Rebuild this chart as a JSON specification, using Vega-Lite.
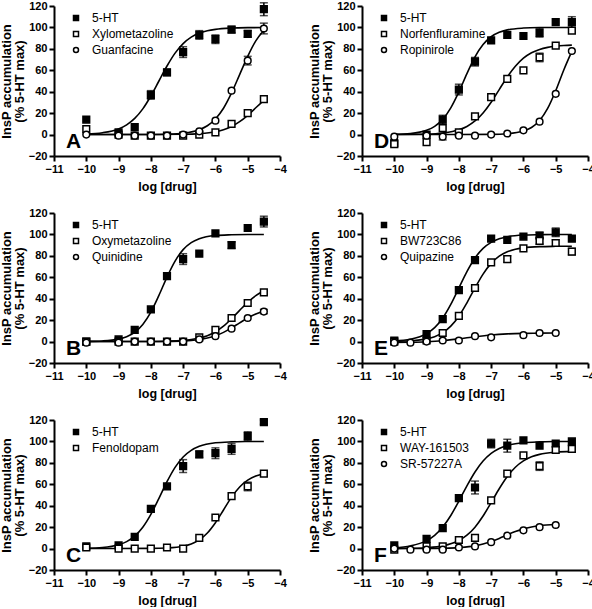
{
"$schema":"https://vega.github.io/schema/vega-lite/v6.json",
"padding":{"left":0,"top":0,"right":0,"bottom":0},
"columns":2,
"spacing":{"row":14,"column":21},
"resolve":{"scale":{"shape":"independent","fill":"independent","stroke":"independent"},"legend":{"shape":"independent","fill":"independent","stroke":"independent"}},
"config":{
 "font":"Liberation Sans",
 "view":{"stroke":null},
 "axis":{"domainColor":"black","domainWidth":2,"tickColor":"black","tickWidth":2,"tickSize":5,"labelFont":"Liberation Sans","labelFontWeight":"bold","labelFontSize":11,"labelColor":"black","titleFont":"Liberation Sans","titleFontWeight":"bold","titleFontSize":13,"titleColor":"black","grid":false,"labelPadding":2,"labelFlush":false,"labelOverlap":false,"titleLineHeight":13},
 "axisX":{"titlePadding":6,"titleFontSize":12.5},
 "axisY":{"titlePadding":2},
 "legend":{"orient":"none","legendX":16,"legendY":6,"title":null,"padding":0,"rowPadding":4,"labelFont":"Liberation Sans","labelFontSize":12,"labelColor":"black","labelOffset":10,"symbolSize":25,"symbolStrokeColor":"black","symbolStrokeWidth":1.5}
},
"datasets":{
"pts":[
{"p":"A","d":"5-HT","x":-10,"y":14,"e":0},{"p":"A","d":"5-HT","x":-9,"y":2,"e":0},{"p":"A","d":"5-HT","x":-8.5,"y":7,"e":0},{"p":"A","d":"5-HT","x":-8,"y":37,"e":4},{"p":"A","d":"5-HT","x":-7.5,"y":58,"e":3},{"p":"A","d":"5-HT","x":-7,"y":77,"e":5},{"p":"A","d":"5-HT","x":-6.5,"y":93,"e":4},{"p":"A","d":"5-HT","x":-6,"y":89,"e":4},{"p":"A","d":"5-HT","x":-5.5,"y":98,"e":3},{"p":"A","d":"5-HT","x":-5,"y":94,"e":3},{"p":"A","d":"5-HT","x":-4.5,"y":117,"e":6},
{"p":"A","d":"Xylometazoline","x":-10,"y":5,"e":0},{"p":"A","d":"Xylometazoline","x":-9,"y":0,"e":0},{"p":"A","d":"Xylometazoline","x":-8.5,"y":-1,"e":0},{"p":"A","d":"Xylometazoline","x":-8,"y":-1,"e":0},{"p":"A","d":"Xylometazoline","x":-7.5,"y":-1,"e":0},{"p":"A","d":"Xylometazoline","x":-7,"y":-1,"e":0},{"p":"A","d":"Xylometazoline","x":-6.5,"y":0,"e":0},{"p":"A","d":"Xylometazoline","x":-6,"y":2,"e":0},{"p":"A","d":"Xylometazoline","x":-5.5,"y":10,"e":0},{"p":"A","d":"Xylometazoline","x":-5,"y":20,"e":0},{"p":"A","d":"Xylometazoline","x":-4.5,"y":33,"e":0},
{"p":"A","d":"Guanfacine","x":-10,"y":0,"e":0},{"p":"A","d":"Guanfacine","x":-9,"y":-1,"e":0},{"p":"A","d":"Guanfacine","x":-8.5,"y":-1,"e":0},{"p":"A","d":"Guanfacine","x":-8,"y":-1,"e":0},{"p":"A","d":"Guanfacine","x":-7.5,"y":-1,"e":0},{"p":"A","d":"Guanfacine","x":-7,"y":0,"e":0},{"p":"A","d":"Guanfacine","x":-6.5,"y":3,"e":0},{"p":"A","d":"Guanfacine","x":-6,"y":13,"e":0},{"p":"A","d":"Guanfacine","x":-5.5,"y":41,"e":0},{"p":"A","d":"Guanfacine","x":-5,"y":69,"e":4},{"p":"A","d":"Guanfacine","x":-4.5,"y":99,"e":5},
{"p":"D","d":"5-HT","x":-10,"y":-8,"e":0},{"p":"D","d":"5-HT","x":-9,"y":0,"e":0},{"p":"D","d":"5-HT","x":-8.5,"y":14,"e":4},{"p":"D","d":"5-HT","x":-8,"y":42,"e":5},{"p":"D","d":"5-HT","x":-7.5,"y":68,"e":4},{"p":"D","d":"5-HT","x":-7,"y":88,"e":0},{"p":"D","d":"5-HT","x":-6.5,"y":93,"e":0},{"p":"D","d":"5-HT","x":-6,"y":92,"e":0},{"p":"D","d":"5-HT","x":-5.5,"y":95,"e":4},{"p":"D","d":"5-HT","x":-5,"y":105,"e":0},{"p":"D","d":"5-HT","x":-4.5,"y":105,"e":5},
{"p":"D","d":"Norfenfluramine","x":-10,"y":-9,"e":0},{"p":"D","d":"Norfenfluramine","x":-9,"y":-7,"e":0},{"p":"D","d":"Norfenfluramine","x":-8.5,"y":6,"e":0},{"p":"D","d":"Norfenfluramine","x":-8,"y":2,"e":0},{"p":"D","d":"Norfenfluramine","x":-7.5,"y":17,"e":0},{"p":"D","d":"Norfenfluramine","x":-7,"y":35,"e":0},{"p":"D","d":"Norfenfluramine","x":-6.5,"y":52,"e":0},{"p":"D","d":"Norfenfluramine","x":-6,"y":60,"e":0},{"p":"D","d":"Norfenfluramine","x":-5.5,"y":72,"e":4},{"p":"D","d":"Norfenfluramine","x":-5,"y":83,"e":0},{"p":"D","d":"Norfenfluramine","x":-4.5,"y":97,"e":0},
{"p":"D","d":"Ropinirole","x":-10,"y":-2,"e":0},{"p":"D","d":"Ropinirole","x":-9,"y":-1,"e":0},{"p":"D","d":"Ropinirole","x":-8.5,"y":-2,"e":3},{"p":"D","d":"Ropinirole","x":-8,"y":-1,"e":0},{"p":"D","d":"Ropinirole","x":-7.5,"y":-1,"e":0},{"p":"D","d":"Ropinirole","x":-7,"y":0,"e":0},{"p":"D","d":"Ropinirole","x":-6.5,"y":1,"e":0},{"p":"D","d":"Ropinirole","x":-6,"y":4,"e":0},{"p":"D","d":"Ropinirole","x":-5.5,"y":12,"e":0},{"p":"D","d":"Ropinirole","x":-5,"y":38,"e":0},{"p":"D","d":"Ropinirole","x":-4.5,"y":78,"e":0},
{"p":"B","d":"5-HT","x":-10,"y":0,"e":0},{"p":"B","d":"5-HT","x":-9,"y":2,"e":0},{"p":"B","d":"5-HT","x":-8.5,"y":11,"e":0},{"p":"B","d":"5-HT","x":-8,"y":30,"e":0},{"p":"B","d":"5-HT","x":-7.5,"y":61,"e":0},{"p":"B","d":"5-HT","x":-7,"y":77,"e":5},{"p":"B","d":"5-HT","x":-6.5,"y":82,"e":0},{"p":"B","d":"5-HT","x":-6,"y":101,"e":0},{"p":"B","d":"5-HT","x":-5.5,"y":90,"e":3},{"p":"B","d":"5-HT","x":-5,"y":106,"e":0},{"p":"B","d":"5-HT","x":-4.5,"y":112,"e":5},
{"p":"B","d":"Oxymetazoline","x":-10,"y":0,"e":0},{"p":"B","d":"Oxymetazoline","x":-9,"y":0,"e":0},{"p":"B","d":"Oxymetazoline","x":-8.5,"y":0,"e":0},{"p":"B","d":"Oxymetazoline","x":-8,"y":0,"e":0},{"p":"B","d":"Oxymetazoline","x":-7.5,"y":0,"e":0},{"p":"B","d":"Oxymetazoline","x":-7,"y":0,"e":0},{"p":"B","d":"Oxymetazoline","x":-6.5,"y":4,"e":0},{"p":"B","d":"Oxymetazoline","x":-6,"y":11,"e":0},{"p":"B","d":"Oxymetazoline","x":-5.5,"y":22,"e":0},{"p":"B","d":"Oxymetazoline","x":-5,"y":36,"e":0},{"p":"B","d":"Oxymetazoline","x":-4.5,"y":46,"e":0},
{"p":"B","d":"Quinidine","x":-10,"y":-1,"e":0},{"p":"B","d":"Quinidine","x":-9,"y":-1,"e":0},{"p":"B","d":"Quinidine","x":-8.5,"y":0,"e":0},{"p":"B","d":"Quinidine","x":-8,"y":0,"e":0},{"p":"B","d":"Quinidine","x":-7.5,"y":0,"e":0},{"p":"B","d":"Quinidine","x":-7,"y":0,"e":0},{"p":"B","d":"Quinidine","x":-6.5,"y":2,"e":0},{"p":"B","d":"Quinidine","x":-6,"y":5,"e":0},{"p":"B","d":"Quinidine","x":-5.5,"y":12,"e":0},{"p":"B","d":"Quinidine","x":-5,"y":22,"e":0},{"p":"B","d":"Quinidine","x":-4.5,"y":28,"e":2},
{"p":"E","d":"5-HT","x":-10,"y":1,"e":0},{"p":"E","d":"5-HT","x":-9,"y":7,"e":0},{"p":"E","d":"5-HT","x":-8.5,"y":21,"e":0},{"p":"E","d":"5-HT","x":-8,"y":48,"e":0},{"p":"E","d":"5-HT","x":-7.5,"y":76,"e":0},{"p":"E","d":"5-HT","x":-7,"y":96,"e":0},{"p":"E","d":"5-HT","x":-6.5,"y":95,"e":0},{"p":"E","d":"5-HT","x":-6,"y":98,"e":0},{"p":"E","d":"5-HT","x":-5.5,"y":99,"e":3},{"p":"E","d":"5-HT","x":-5,"y":102,"e":4},{"p":"E","d":"5-HT","x":-4.5,"y":96,"e":0},
{"p":"E","d":"BW723C86","x":-10,"y":0,"e":0},{"p":"E","d":"BW723C86","x":-9,"y":1,"e":0},{"p":"E","d":"BW723C86","x":-8.5,"y":8,"e":0},{"p":"E","d":"BW723C86","x":-8,"y":24,"e":0},{"p":"E","d":"BW723C86","x":-7.5,"y":50,"e":0},{"p":"E","d":"BW723C86","x":-7,"y":74,"e":0},{"p":"E","d":"BW723C86","x":-6.5,"y":77,"e":3},{"p":"E","d":"BW723C86","x":-6,"y":87,"e":0},{"p":"E","d":"BW723C86","x":-5.5,"y":94,"e":3},{"p":"E","d":"BW723C86","x":-5,"y":92,"e":3},{"p":"E","d":"BW723C86","x":-4.5,"y":84,"e":3},
{"p":"E","d":"Quipazine","x":-10,"y":-1,"e":0},{"p":"E","d":"Quipazine","x":-9.5,"y":-1,"e":0},{"p":"E","d":"Quipazine","x":-9,"y":0,"e":0},{"p":"E","d":"Quipazine","x":-8.5,"y":1,"e":0},{"p":"E","d":"Quipazine","x":-8,"y":1,"e":0},{"p":"E","d":"Quipazine","x":-7.5,"y":5,"e":0},{"p":"E","d":"Quipazine","x":-7,"y":4,"e":0},{"p":"E","d":"Quipazine","x":-6,"y":6,"e":0},{"p":"E","d":"Quipazine","x":-5.5,"y":8,"e":0},{"p":"E","d":"Quipazine","x":-5,"y":8,"e":0},
{"p":"C","d":"5-HT","x":-10,"y":2,"e":0},{"p":"C","d":"5-HT","x":-9,"y":3,"e":0},{"p":"C","d":"5-HT","x":-8.5,"y":11,"e":0},{"p":"C","d":"5-HT","x":-8,"y":37,"e":0},{"p":"C","d":"5-HT","x":-7.5,"y":58,"e":0},{"p":"C","d":"5-HT","x":-7,"y":77,"e":6},{"p":"C","d":"5-HT","x":-6.5,"y":88,"e":3},{"p":"C","d":"5-HT","x":-6,"y":89,"e":5},{"p":"C","d":"5-HT","x":-5.5,"y":93,"e":5},{"p":"C","d":"5-HT","x":-5,"y":105,"e":4},{"p":"C","d":"5-HT","x":-4.5,"y":118,"e":2},
{"p":"C","d":"Fenoldopam","x":-10,"y":1,"e":0},{"p":"C","d":"Fenoldopam","x":-9,"y":0,"e":0},{"p":"C","d":"Fenoldopam","x":-8.5,"y":0,"e":0},{"p":"C","d":"Fenoldopam","x":-8,"y":0,"e":0},{"p":"C","d":"Fenoldopam","x":-7.5,"y":1,"e":0},{"p":"C","d":"Fenoldopam","x":-7,"y":0,"e":0},{"p":"C","d":"Fenoldopam","x":-6.5,"y":10,"e":0},{"p":"C","d":"Fenoldopam","x":-6,"y":29,"e":0},{"p":"C","d":"Fenoldopam","x":-5.5,"y":49,"e":0},{"p":"C","d":"Fenoldopam","x":-5,"y":58,"e":4},{"p":"C","d":"Fenoldopam","x":-4.5,"y":70,"e":0},
{"p":"F","d":"5-HT","x":-10,"y":3,"e":0},{"p":"F","d":"5-HT","x":-9,"y":9,"e":0},{"p":"F","d":"5-HT","x":-8.5,"y":19,"e":0},{"p":"F","d":"5-HT","x":-8,"y":47,"e":0},{"p":"F","d":"5-HT","x":-7.5,"y":57,"e":6},{"p":"F","d":"5-HT","x":-7,"y":98,"e":4},{"p":"F","d":"5-HT","x":-6.5,"y":96,"e":6},{"p":"F","d":"5-HT","x":-6,"y":101,"e":0},{"p":"F","d":"5-HT","x":-5.5,"y":96,"e":0},{"p":"F","d":"5-HT","x":-5,"y":98,"e":0},{"p":"F","d":"5-HT","x":-4.5,"y":100,"e":0},
{"p":"F","d":"WAY-161503","x":-10,"y":-1,"e":0},{"p":"F","d":"WAY-161503","x":-9,"y":2,"e":0},{"p":"F","d":"WAY-161503","x":-8.5,"y":2,"e":0},{"p":"F","d":"WAY-161503","x":-8,"y":8,"e":0},{"p":"F","d":"WAY-161503","x":-7.5,"y":10,"e":0},{"p":"F","d":"WAY-161503","x":-7,"y":45,"e":0},{"p":"F","d":"WAY-161503","x":-6.5,"y":70,"e":0},{"p":"F","d":"WAY-161503","x":-6,"y":87,"e":0},{"p":"F","d":"WAY-161503","x":-5.5,"y":77,"e":4},{"p":"F","d":"WAY-161503","x":-5,"y":92,"e":0},{"p":"F","d":"WAY-161503","x":-4.5,"y":93,"e":3},
{"p":"F","d":"SR-57227A","x":-10,"y":0,"e":0},{"p":"F","d":"SR-57227A","x":-9.5,"y":-1,"e":0},{"p":"F","d":"SR-57227A","x":-9,"y":-1,"e":0},{"p":"F","d":"SR-57227A","x":-8.5,"y":-1,"e":0},{"p":"F","d":"SR-57227A","x":-8,"y":1,"e":0},{"p":"F","d":"SR-57227A","x":-7.5,"y":2,"e":0},{"p":"F","d":"SR-57227A","x":-7,"y":6,"e":0},{"p":"F","d":"SR-57227A","x":-6.5,"y":12,"e":0},{"p":"F","d":"SR-57227A","x":-6,"y":17,"e":0},{"p":"F","d":"SR-57227A","x":-5.5,"y":20,"e":0},{"p":"F","d":"SR-57227A","x":-5,"y":22,"e":0}
],
"crv":[
{"p":"A","d":"5-HT","x":-10,"y":0.6},{"p":"A","d":"5-HT","x":-9.5,"y":1.75},{"p":"A","d":"5-HT","x":-9,"y":5.3},{"p":"A","d":"5-HT","x":-8.75,"y":9.1},{"p":"A","d":"5-HT","x":-8.5,"y":15.1},{"p":"A","d":"5-HT","x":-8.25,"y":24},{"p":"A","d":"5-HT","x":-8,"y":36},{"p":"A","d":"5-HT","x":-7.75,"y":50},{"p":"A","d":"5-HT","x":-7.5,"y":64},{"p":"A","d":"5-HT","x":-7.25,"y":76},{"p":"A","d":"5-HT","x":-7,"y":84.9},{"p":"A","d":"5-HT","x":-6.75,"y":90.9},{"p":"A","d":"5-HT","x":-6.5,"y":94.7},{"p":"A","d":"5-HT","x":-6.25,"y":96.9},{"p":"A","d":"5-HT","x":-6,"y":98.2},{"p":"A","d":"5-HT","x":-5.5,"y":99.4},{"p":"A","d":"5-HT","x":-5,"y":99.8},{"p":"A","d":"5-HT","x":-4.5,"y":99.9},
{"p":"A","d":"Xylometazoline","x":-10,"y":0},{"p":"A","d":"Xylometazoline","x":-8,"y":0.03},{"p":"A","d":"Xylometazoline","x":-7,"y":0.28},{"p":"A","d":"Xylometazoline","x":-6.5,"y":0.88},{"p":"A","d":"Xylometazoline","x":-6,"y":2.66},{"p":"A","d":"Xylometazoline","x":-5.75,"y":4.5},{"p":"A","d":"Xylometazoline","x":-5.5,"y":7.55},{"p":"A","d":"Xylometazoline","x":-5.25,"y":12},{"p":"A","d":"Xylometazoline","x":-5,"y":18},{"p":"A","d":"Xylometazoline","x":-4.75,"y":25},{"p":"A","d":"Xylometazoline","x":-4.5,"y":32},
{"p":"A","d":"Guanfacine","x":-10,"y":0},{"p":"A","d":"Guanfacine","x":-8,"y":0.1},{"p":"A","d":"Guanfacine","x":-7.5,"y":0.37},{"p":"A","d":"Guanfacine","x":-7,"y":1.3},{"p":"A","d":"Guanfacine","x":-6.5,"y":4.5},{"p":"A","d":"Guanfacine","x":-6.25,"y":8.2},{"p":"A","d":"Guanfacine","x":-6,"y":14.6},{"p":"A","d":"Guanfacine","x":-5.75,"y":24.6},{"p":"A","d":"Guanfacine","x":-5.5,"y":38.9},{"p":"A","d":"Guanfacine","x":-5.25,"y":56},{"p":"A","d":"Guanfacine","x":-5,"y":73},{"p":"A","d":"Guanfacine","x":-4.75,"y":87.4},{"p":"A","d":"Guanfacine","x":-4.5,"y":97.4},
{"p":"D","d":"5-HT","x":-10,"y":0.26},{"p":"D","d":"5-HT","x":-9.5,"y":1.0},{"p":"D","d":"5-HT","x":-9,"y":4.0},{"p":"D","d":"5-HT","x":-8.75,"y":7.7},{"p":"D","d":"5-HT","x":-8.5,"y":14.2},{"p":"D","d":"5-HT","x":-8.25,"y":24.9},{"p":"D","d":"5-HT","x":-8,"y":39.8},{"p":"D","d":"5-HT","x":-7.75,"y":56.9},{"p":"D","d":"5-HT","x":-7.5,"y":72.5},{"p":"D","d":"5-HT","x":-7.25,"y":84},{"p":"D","d":"5-HT","x":-7,"y":91.3},{"p":"D","d":"5-HT","x":-6.75,"y":95.4},{"p":"D","d":"5-HT","x":-6.5,"y":97.7},{"p":"D","d":"5-HT","x":-6,"y":99.4},{"p":"D","d":"5-HT","x":-5.5,"y":99.9},{"p":"D","d":"5-HT","x":-5,"y":100},{"p":"D","d":"5-HT","x":-4.5,"y":100},
{"p":"D","d":"Norfenfluramine","x":-10,"y":0.05},{"p":"D","d":"Norfenfluramine","x":-9,"y":0.47},{"p":"D","d":"Norfenfluramine","x":-8.5,"y":1.47},{"p":"D","d":"Norfenfluramine","x":-8,"y":4.47},{"p":"D","d":"Norfenfluramine","x":-7.75,"y":7.6},{"p":"D","d":"Norfenfluramine","x":-7.5,"y":12.7},{"p":"D","d":"Norfenfluramine","x":-7.25,"y":20.2},{"p":"D","d":"Norfenfluramine","x":-7,"y":30.2},{"p":"D","d":"Norfenfluramine","x":-6.75,"y":42},{"p":"D","d":"Norfenfluramine","x":-6.5,"y":53.8},{"p":"D","d":"Norfenfluramine","x":-6.25,"y":63.8},{"p":"D","d":"Norfenfluramine","x":-6,"y":71.3},{"p":"D","d":"Norfenfluramine","x":-5.75,"y":76.4},{"p":"D","d":"Norfenfluramine","x":-5.5,"y":79.5},{"p":"D","d":"Norfenfluramine","x":-5.25,"y":81.4},{"p":"D","d":"Norfenfluramine","x":-5,"y":82.5},{"p":"D","d":"Norfenfluramine","x":-4.75,"y":83.2},{"p":"D","d":"Norfenfluramine","x":-4.5,"y":83.5},
{"p":"D","d":"Ropinirole","x":-10,"y":0},{"p":"D","d":"Ropinirole","x":-8,"y":0.01},{"p":"D","d":"Ropinirole","x":-7,"y":0.17},{"p":"D","d":"Ropinirole","x":-6.5,"y":0.75},{"p":"D","d":"Ropinirole","x":-6,"y":3.25},{"p":"D","d":"Ropinirole","x":-5.75,"y":6.6},{"p":"D","d":"Ropinirole","x":-5.5,"y":13.1},{"p":"D","d":"Ropinirole","x":-5.25,"y":24.4},{"p":"D","d":"Ropinirole","x":-5,"y":40.9},{"p":"D","d":"Ropinirole","x":-4.75,"y":60.3},{"p":"D","d":"Ropinirole","x":-4.5,"y":77.7},
{"p":"B","d":"5-HT","x":-10,"y":0.15},{"p":"B","d":"5-HT","x":-9.5,"y":0.6},{"p":"B","d":"5-HT","x":-9,"y":2.3},{"p":"B","d":"5-HT","x":-8.75,"y":4.6},{"p":"B","d":"5-HT","x":-8.5,"y":8.7},{"p":"B","d":"5-HT","x":-8.25,"y":16},{"p":"B","d":"5-HT","x":-8,"y":27.5},{"p":"B","d":"5-HT","x":-7.75,"y":43.1},{"p":"B","d":"5-HT","x":-7.5,"y":60.2},{"p":"B","d":"5-HT","x":-7.25,"y":75.1},{"p":"B","d":"5-HT","x":-7,"y":85.8},{"p":"B","d":"5-HT","x":-6.75,"y":92.3},{"p":"B","d":"5-HT","x":-6.5,"y":96},{"p":"B","d":"5-HT","x":-6,"y":99},{"p":"B","d":"5-HT","x":-5.5,"y":99.7},{"p":"B","d":"5-HT","x":-5,"y":100},{"p":"B","d":"5-HT","x":-4.5,"y":100},
{"p":"B","d":"Oxymetazoline","x":-10,"y":0},{"p":"B","d":"Oxymetazoline","x":-8,"y":0.1},{"p":"B","d":"Oxymetazoline","x":-7.5,"y":0.35},{"p":"B","d":"Oxymetazoline","x":-7,"y":1.1},{"p":"B","d":"Oxymetazoline","x":-6.75,"y":1.9},{"p":"B","d":"Oxymetazoline","x":-6.5,"y":3.3},{"p":"B","d":"Oxymetazoline","x":-6.25,"y":5.5},{"p":"B","d":"Oxymetazoline","x":-6,"y":9.2},{"p":"B","d":"Oxymetazoline","x":-5.75,"y":14.4},{"p":"B","d":"Oxymetazoline","x":-5.5,"y":21.3},{"p":"B","d":"Oxymetazoline","x":-5.25,"y":29.1},{"p":"B","d":"Oxymetazoline","x":-5,"y":36.6},{"p":"B","d":"Oxymetazoline","x":-4.75,"y":42.9},{"p":"B","d":"Oxymetazoline","x":-4.5,"y":47.5},
{"p":"B","d":"Quinidine","x":-10,"y":0},{"p":"B","d":"Quinidine","x":-8,"y":0.06},{"p":"B","d":"Quinidine","x":-7.5,"y":0.2},{"p":"B","d":"Quinidine","x":-7,"y":0.65},{"p":"B","d":"Quinidine","x":-6.75,"y":1.13},{"p":"B","d":"Quinidine","x":-6.5,"y":1.96},{"p":"B","d":"Quinidine","x":-6.25,"y":3.3},{"p":"B","d":"Quinidine","x":-6,"y":5.5},{"p":"B","d":"Quinidine","x":-5.75,"y":8.6},{"p":"B","d":"Quinidine","x":-5.5,"y":12.8},{"p":"B","d":"Quinidine","x":-5.25,"y":17.5},{"p":"B","d":"Quinidine","x":-5,"y":22},{"p":"B","d":"Quinidine","x":-4.75,"y":25.7},{"p":"B","d":"Quinidine","x":-4.5,"y":28.5},
{"p":"E","d":"5-HT","x":-10,"y":0.63},{"p":"E","d":"5-HT","x":-9.5,"y":2.2},{"p":"E","d":"5-HT","x":-9,"y":7.4},{"p":"E","d":"5-HT","x":-8.75,"y":13},{"p":"E","d":"5-HT","x":-8.5,"y":22},{"p":"E","d":"5-HT","x":-8.25,"y":34.7},{"p":"E","d":"5-HT","x":-8,"y":50},{"p":"E","d":"5-HT","x":-7.75,"y":65.3},{"p":"E","d":"5-HT","x":-7.5,"y":78},{"p":"E","d":"5-HT","x":-7.25,"y":87},{"p":"E","d":"5-HT","x":-7,"y":92.6},{"p":"E","d":"5-HT","x":-6.75,"y":96},{"p":"E","d":"5-HT","x":-6.5,"y":97.8},{"p":"E","d":"5-HT","x":-6,"y":99.4},{"p":"E","d":"5-HT","x":-5.5,"y":99.8},{"p":"E","d":"5-HT","x":-5,"y":100},{"p":"E","d":"5-HT","x":-4.5,"y":100},
{"p":"E","d":"BW723C86","x":-10,"y":0.2},{"p":"E","d":"BW723C86","x":-9.5,"y":0.72},{"p":"E","d":"BW723C86","x":-9,"y":2.5},{"p":"E","d":"BW723C86","x":-8.75,"y":4.6},{"p":"E","d":"BW723C86","x":-8.5,"y":8.3},{"p":"E","d":"BW723C86","x":-8.25,"y":14.4},{"p":"E","d":"BW723C86","x":-8,"y":23.7},{"p":"E","d":"BW723C86","x":-7.75,"y":36.2},{"p":"E","d":"BW723C86","x":-7.5,"y":50.1},{"p":"E","d":"BW723C86","x":-7.25,"y":63},{"p":"E","d":"BW723C86","x":-7,"y":73},{"p":"E","d":"BW723C86","x":-6.75,"y":79.7},{"p":"E","d":"BW723C86","x":-6.5,"y":83.8},{"p":"E","d":"BW723C86","x":-6.25,"y":86.2},{"p":"E","d":"BW723C86","x":-6,"y":87.5},{"p":"E","d":"BW723C86","x":-5.5,"y":88.6},{"p":"E","d":"BW723C86","x":-5,"y":88.9},{"p":"E","d":"BW723C86","x":-4.5,"y":89},
{"p":"E","d":"Quipazine","x":-10,"y":-0.86},{"p":"E","d":"Quipazine","x":-9.5,"y":-0.66},{"p":"E","d":"Quipazine","x":-9,"y":-0.18},{"p":"E","d":"Quipazine","x":-8.5,"y":0.81},{"p":"E","d":"Quipazine","x":-8,"y":2.48},{"p":"E","d":"Quipazine","x":-7.5,"y":4.52},{"p":"E","d":"Quipazine","x":-7,"y":6.19},{"p":"E","d":"Quipazine","x":-6.5,"y":7.18},{"p":"E","d":"Quipazine","x":-6,"y":7.66},{"p":"E","d":"Quipazine","x":-5.5,"y":7.86},{"p":"E","d":"Quipazine","x":-5,"y":7.94},
{"p":"C","d":"5-HT","x":-10,"y":0.3},{"p":"C","d":"5-HT","x":-9.5,"y":1},{"p":"C","d":"5-HT","x":-9,"y":3.6},{"p":"C","d":"5-HT","x":-8.75,"y":6.5},{"p":"C","d":"5-HT","x":-8.5,"y":11.6},{"p":"C","d":"5-HT","x":-8.25,"y":19.9},{"p":"C","d":"5-HT","x":-8,"y":31.9},{"p":"C","d":"5-HT","x":-7.75,"y":46.8},{"p":"C","d":"5-HT","x":-7.5,"y":62.4},{"p":"C","d":"5-HT","x":-7.25,"y":75.8},{"p":"C","d":"5-HT","x":-7,"y":85.5},{"p":"C","d":"5-HT","x":-6.75,"y":91.7},{"p":"C","d":"5-HT","x":-6.5,"y":95.4},{"p":"C","d":"5-HT","x":-6,"y":98.7},{"p":"C","d":"5-HT","x":-5.5,"y":99.6},{"p":"C","d":"5-HT","x":-5,"y":99.9},{"p":"C","d":"5-HT","x":-4.5,"y":100},
{"p":"C","d":"Fenoldopam","x":-10,"y":0},{"p":"C","d":"Fenoldopam","x":-8,"y":0.14},{"p":"C","d":"Fenoldopam","x":-7.5,"y":0.57},{"p":"C","d":"Fenoldopam","x":-7,"y":2.2},{"p":"C","d":"Fenoldopam","x":-6.75,"y":4.3},{"p":"C","d":"Fenoldopam","x":-6.5,"y":8.1},{"p":"C","d":"Fenoldopam","x":-6.25,"y":14.5},{"p":"C","d":"Fenoldopam","x":-6,"y":24.1},{"p":"C","d":"Fenoldopam","x":-5.75,"y":36},{"p":"C","d":"Fenoldopam","x":-5.5,"y":48},{"p":"C","d":"Fenoldopam","x":-5.25,"y":57.5},{"p":"C","d":"Fenoldopam","x":-5,"y":63.9},{"p":"C","d":"Fenoldopam","x":-4.75,"y":67.7},{"p":"C","d":"Fenoldopam","x":-4.5,"y":69.8},
{"p":"F","d":"5-HT","x":-10,"y":0.79},{"p":"F","d":"5-HT","x":-9.5,"y":2.45},{"p":"F","d":"5-HT","x":-9,"y":7.4},{"p":"F","d":"5-HT","x":-8.75,"y":12.4},{"p":"F","d":"5-HT","x":-8.5,"y":20.1},{"p":"F","d":"5-HT","x":-8.25,"y":30.9},{"p":"F","d":"5-HT","x":-8,"y":44.3},{"p":"F","d":"5-HT","x":-7.75,"y":58.5},{"p":"F","d":"5-HT","x":-7.5,"y":71.5},{"p":"F","d":"5-HT","x":-7.25,"y":81.7},{"p":"F","d":"5-HT","x":-7,"y":88.8},{"p":"F","d":"5-HT","x":-6.75,"y":93.4},{"p":"F","d":"5-HT","x":-6.5,"y":96.2},{"p":"F","d":"5-HT","x":-6.25,"y":97.8},{"p":"F","d":"5-HT","x":-6,"y":98.8},{"p":"F","d":"5-HT","x":-5.5,"y":99.6},{"p":"F","d":"5-HT","x":-5,"y":99.9},{"p":"F","d":"5-HT","x":-4.5,"y":100},
{"p":"F","d":"WAY-161503","x":-10,"y":0.08},{"p":"F","d":"WAY-161503","x":-9.5,"y":0.26},{"p":"F","d":"WAY-161503","x":-9,"y":0.8},{"p":"F","d":"WAY-161503","x":-8.5,"y":2.5},{"p":"F","d":"WAY-161503","x":-8,"y":7.5},{"p":"F","d":"WAY-161503","x":-7.75,"y":12.5},{"p":"F","d":"WAY-161503","x":-7.5,"y":20},{"p":"F","d":"WAY-161503","x":-7.25,"y":30.4},{"p":"F","d":"WAY-161503","x":-7,"y":42.9},{"p":"F","d":"WAY-161503","x":-6.75,"y":55.8},{"p":"F","d":"WAY-161503","x":-6.5,"y":67.2},{"p":"F","d":"WAY-161503","x":-6.25,"y":75.9},{"p":"F","d":"WAY-161503","x":-6,"y":81.8},{"p":"F","d":"WAY-161503","x":-5.75,"y":85.6},{"p":"F","d":"WAY-161503","x":-5.5,"y":87.9},{"p":"F","d":"WAY-161503","x":-5,"y":90},{"p":"F","d":"WAY-161503","x":-4.5,"y":90.7},
{"p":"F","d":"SR-57227A","x":-10,"y":0.01},{"p":"F","d":"SR-57227A","x":-9,"y":0.1},{"p":"F","d":"SR-57227A","x":-8.5,"y":0.3},{"p":"F","d":"SR-57227A","x":-8,"y":0.9},{"p":"F","d":"SR-57227A","x":-7.5,"y":2.5},{"p":"F","d":"SR-57227A","x":-7.25,"y":4.2},{"p":"F","d":"SR-57227A","x":-7,"y":6.5},{"p":"F","d":"SR-57227A","x":-6.75,"y":9.5},{"p":"F","d":"SR-57227A","x":-6.5,"y":12.8},{"p":"F","d":"SR-57227A","x":-6.25,"y":15.9},{"p":"F","d":"SR-57227A","x":-6,"y":18.4},{"p":"F","d":"SR-57227A","x":-5.75,"y":20.1},{"p":"F","d":"SR-57227A","x":-5.5,"y":21.3},{"p":"F","d":"SR-57227A","x":-5,"y":22.4}
],
"lbl":[{"p":"A","t":"A"},{"p":"B","t":"B"},{"p":"C","t":"C"},{"p":"D","t":"D"},{"p":"E","t":"E"},{"p":"F","t":"F"}]
},
"concat":[
{"width":226,"height":150,"layer":[
 {"encoding":{"x":{"field":"x","type":"quantitative","scale":{"domain":[-11,-4],"nice":false,"zero":false},"axis":{"values":[-11,-10,-9,-8,-7,-6,-5,-4],"title":"log [drug]"}},"y":{"field":"y","type":"quantitative","scale":{"domain":[-20,120],"nice":false},"axis":{"values":[-20,0,20,40,60,80,100,120],"title":["InsP accumulation","(% 5-HT max)"]}}},
  "layer":[
  {"data":{"name":"crv"},"transform":[{"filter":"datum.p=='A'"}],"mark":{"type":"line","color":"black","strokeWidth":1.6,"interpolate":"monotone"},"encoding":{"detail":{"field":"d"}}},
  {"data":{"name":"pts"},"transform":[{"filter":"datum.p=='A' && datum.e>0"}],"mark":{"type":"errorbar","ticks":{"size":8},"color":"black","thickness":1.5},"encoding":{"yError":{"field":"e"}}},
  {"data":{"name":"pts"},"transform":[{"filter":"datum.p=='A'"}],"mark":{"type":"point","size":45,"strokeWidth":1.5,"opacity":1},"encoding":{"shape":{"field":"d","type":"nominal","scale":{"domain":["5-HT","Xylometazoline","Guanfacine"],"range":["square","square","circle"]}},"fill":{"field":"d","type":"nominal","scale":{"domain":["5-HT","Xylometazoline","Guanfacine"],"range":["black","white","white"]}},"stroke":{"field":"d","type":"nominal","scale":{"domain":["5-HT","Xylometazoline","Guanfacine"],"range":["black","black","black"]}}}}
 ]},
 {"data":{"name":"lbl"},"transform":[{"filter":"datum.p=='A'"}],"mark":{"type":"text","fontWeight":"bold","fontSize":21,"align":"left","baseline":"alphabetic","color":"black"},"encoding":{"text":{"field":"t"},"x":{"datum":-10.63,"type":"quantitative","scale":{"domain":[-11,-4],"nice":false,"zero":false},"axis":{"values":[-11,-10,-9,-8,-7,-6,-5,-4],"title":"log [drug]"}},"y":{"datum":-12.5,"type":"quantitative","scale":{"domain":[-20,120],"nice":false},"axis":{"values":[-20,0,20,40,60,80,100,120],"title":["InsP accumulation","(% 5-HT max)"]}}}}
]},
{"width":226,"height":150,"layer":[
 {"encoding":{"x":{"field":"x","type":"quantitative","scale":{"domain":[-11,-4],"nice":false,"zero":false},"axis":{"values":[-11,-10,-9,-8,-7,-6,-5,-4],"title":"log [drug]"}},"y":{"field":"y","type":"quantitative","scale":{"domain":[-20,120],"nice":false},"axis":{"values":[-20,0,20,40,60,80,100,120],"title":["InsP accumulation","(% 5-HT max)"]}}},
  "layer":[
  {"data":{"name":"crv"},"transform":[{"filter":"datum.p=='D'"}],"mark":{"type":"line","color":"black","strokeWidth":1.6,"interpolate":"monotone"},"encoding":{"detail":{"field":"d"}}},
  {"data":{"name":"pts"},"transform":[{"filter":"datum.p=='D' && datum.e>0"}],"mark":{"type":"errorbar","ticks":{"size":8},"color":"black","thickness":1.5},"encoding":{"yError":{"field":"e"}}},
  {"data":{"name":"pts"},"transform":[{"filter":"datum.p=='D'"}],"mark":{"type":"point","size":45,"strokeWidth":1.5,"opacity":1},"encoding":{"shape":{"field":"d","type":"nominal","scale":{"domain":["5-HT","Norfenfluramine","Ropinirole"],"range":["square","square","circle"]}},"fill":{"field":"d","type":"nominal","scale":{"domain":["5-HT","Norfenfluramine","Ropinirole"],"range":["black","white","white"]}},"stroke":{"field":"d","type":"nominal","scale":{"domain":["5-HT","Norfenfluramine","Ropinirole"],"range":["black","black","black"]}}}}
 ]},
 {"data":{"name":"lbl"},"transform":[{"filter":"datum.p=='D'"}],"mark":{"type":"text","fontWeight":"bold","fontSize":21,"align":"left","baseline":"alphabetic","color":"black"},"encoding":{"text":{"field":"t"},"x":{"datum":-10.63,"type":"quantitative","scale":{"domain":[-11,-4],"nice":false,"zero":false},"axis":{"values":[-11,-10,-9,-8,-7,-6,-5,-4],"title":"log [drug]"}},"y":{"datum":-12.5,"type":"quantitative","scale":{"domain":[-20,120],"nice":false},"axis":{"values":[-20,0,20,40,60,80,100,120],"title":["InsP accumulation","(% 5-HT max)"]}}}}
]},
{"width":226,"height":150,"layer":[
 {"encoding":{"x":{"field":"x","type":"quantitative","scale":{"domain":[-11,-4],"nice":false,"zero":false},"axis":{"values":[-11,-10,-9,-8,-7,-6,-5,-4],"title":"log [drug]"}},"y":{"field":"y","type":"quantitative","scale":{"domain":[-20,120],"nice":false},"axis":{"values":[-20,0,20,40,60,80,100,120],"title":["InsP accumulation","(% 5-HT max)"]}}},
  "layer":[
  {"data":{"name":"crv"},"transform":[{"filter":"datum.p=='B'"}],"mark":{"type":"line","color":"black","strokeWidth":1.6,"interpolate":"monotone"},"encoding":{"detail":{"field":"d"}}},
  {"data":{"name":"pts"},"transform":[{"filter":"datum.p=='B' && datum.e>0"}],"mark":{"type":"errorbar","ticks":{"size":8},"color":"black","thickness":1.5},"encoding":{"yError":{"field":"e"}}},
  {"data":{"name":"pts"},"transform":[{"filter":"datum.p=='B'"}],"mark":{"type":"point","size":45,"strokeWidth":1.5,"opacity":1},"encoding":{"shape":{"field":"d","type":"nominal","scale":{"domain":["5-HT","Oxymetazoline","Quinidine"],"range":["square","square","circle"]}},"fill":{"field":"d","type":"nominal","scale":{"domain":["5-HT","Oxymetazoline","Quinidine"],"range":["black","white","white"]}},"stroke":{"field":"d","type":"nominal","scale":{"domain":["5-HT","Oxymetazoline","Quinidine"],"range":["black","black","black"]}}}}
 ]},
 {"data":{"name":"lbl"},"transform":[{"filter":"datum.p=='B'"}],"mark":{"type":"text","fontWeight":"bold","fontSize":21,"align":"left","baseline":"alphabetic","color":"black"},"encoding":{"text":{"field":"t"},"x":{"datum":-10.63,"type":"quantitative","scale":{"domain":[-11,-4],"nice":false,"zero":false},"axis":{"values":[-11,-10,-9,-8,-7,-6,-5,-4],"title":"log [drug]"}},"y":{"datum":-12.5,"type":"quantitative","scale":{"domain":[-20,120],"nice":false},"axis":{"values":[-20,0,20,40,60,80,100,120],"title":["InsP accumulation","(% 5-HT max)"]}}}}
]},
{"width":226,"height":150,"layer":[
 {"encoding":{"x":{"field":"x","type":"quantitative","scale":{"domain":[-11,-4],"nice":false,"zero":false},"axis":{"values":[-11,-10,-9,-8,-7,-6,-5,-4],"title":"log [drug]"}},"y":{"field":"y","type":"quantitative","scale":{"domain":[-20,120],"nice":false},"axis":{"values":[-20,0,20,40,60,80,100,120],"title":["InsP accumulation","(% 5-HT max)"]}}},
  "layer":[
  {"data":{"name":"crv"},"transform":[{"filter":"datum.p=='E'"}],"mark":{"type":"line","color":"black","strokeWidth":1.6,"interpolate":"monotone"},"encoding":{"detail":{"field":"d"}}},
  {"data":{"name":"pts"},"transform":[{"filter":"datum.p=='E' && datum.e>0"}],"mark":{"type":"errorbar","ticks":{"size":8},"color":"black","thickness":1.5},"encoding":{"yError":{"field":"e"}}},
  {"data":{"name":"pts"},"transform":[{"filter":"datum.p=='E'"}],"mark":{"type":"point","size":45,"strokeWidth":1.5,"opacity":1},"encoding":{"shape":{"field":"d","type":"nominal","scale":{"domain":["5-HT","BW723C86","Quipazine"],"range":["square","square","circle"]}},"fill":{"field":"d","type":"nominal","scale":{"domain":["5-HT","BW723C86","Quipazine"],"range":["black","white","white"]}},"stroke":{"field":"d","type":"nominal","scale":{"domain":["5-HT","BW723C86","Quipazine"],"range":["black","black","black"]}}}}
 ]},
 {"data":{"name":"lbl"},"transform":[{"filter":"datum.p=='E'"}],"mark":{"type":"text","fontWeight":"bold","fontSize":21,"align":"left","baseline":"alphabetic","color":"black"},"encoding":{"text":{"field":"t"},"x":{"datum":-10.63,"type":"quantitative","scale":{"domain":[-11,-4],"nice":false,"zero":false},"axis":{"values":[-11,-10,-9,-8,-7,-6,-5,-4],"title":"log [drug]"}},"y":{"datum":-12.5,"type":"quantitative","scale":{"domain":[-20,120],"nice":false},"axis":{"values":[-20,0,20,40,60,80,100,120],"title":["InsP accumulation","(% 5-HT max)"]}}}}
]},
{"width":226,"height":150,"layer":[
 {"encoding":{"x":{"field":"x","type":"quantitative","scale":{"domain":[-11,-4],"nice":false,"zero":false},"axis":{"values":[-11,-10,-9,-8,-7,-6,-5,-4],"title":"log [drug]"}},"y":{"field":"y","type":"quantitative","scale":{"domain":[-20,120],"nice":false},"axis":{"values":[-20,0,20,40,60,80,100,120],"title":["InsP accumulation","(% 5-HT max)"]}}},
  "layer":[
  {"data":{"name":"crv"},"transform":[{"filter":"datum.p=='C'"}],"mark":{"type":"line","color":"black","strokeWidth":1.6,"interpolate":"monotone"},"encoding":{"detail":{"field":"d"}}},
  {"data":{"name":"pts"},"transform":[{"filter":"datum.p=='C' && datum.e>0"}],"mark":{"type":"errorbar","ticks":{"size":8},"color":"black","thickness":1.5},"encoding":{"yError":{"field":"e"}}},
  {"data":{"name":"pts"},"transform":[{"filter":"datum.p=='C'"}],"mark":{"type":"point","size":45,"strokeWidth":1.5,"opacity":1},"encoding":{"shape":{"field":"d","type":"nominal","scale":{"domain":["5-HT","Fenoldopam"],"range":["square","square"]}},"fill":{"field":"d","type":"nominal","scale":{"domain":["5-HT","Fenoldopam"],"range":["black","white"]}},"stroke":{"field":"d","type":"nominal","scale":{"domain":["5-HT","Fenoldopam"],"range":["black","black"]}}}}
 ]},
 {"data":{"name":"lbl"},"transform":[{"filter":"datum.p=='C'"}],"mark":{"type":"text","fontWeight":"bold","fontSize":21,"align":"left","baseline":"alphabetic","color":"black"},"encoding":{"text":{"field":"t"},"x":{"datum":-10.63,"type":"quantitative","scale":{"domain":[-11,-4],"nice":false,"zero":false},"axis":{"values":[-11,-10,-9,-8,-7,-6,-5,-4],"title":"log [drug]"}},"y":{"datum":-12.5,"type":"quantitative","scale":{"domain":[-20,120],"nice":false},"axis":{"values":[-20,0,20,40,60,80,100,120],"title":["InsP accumulation","(% 5-HT max)"]}}}}
]},
{"width":226,"height":150,"layer":[
 {"encoding":{"x":{"field":"x","type":"quantitative","scale":{"domain":[-11,-4],"nice":false,"zero":false},"axis":{"values":[-11,-10,-9,-8,-7,-6,-5,-4],"title":"log [drug]"}},"y":{"field":"y","type":"quantitative","scale":{"domain":[-20,120],"nice":false},"axis":{"values":[-20,0,20,40,60,80,100,120],"title":["InsP accumulation","(% 5-HT max)"]}}},
  "layer":[
  {"data":{"name":"crv"},"transform":[{"filter":"datum.p=='F'"}],"mark":{"type":"line","color":"black","strokeWidth":1.6,"interpolate":"monotone"},"encoding":{"detail":{"field":"d"}}},
  {"data":{"name":"pts"},"transform":[{"filter":"datum.p=='F' && datum.e>0"}],"mark":{"type":"errorbar","ticks":{"size":8},"color":"black","thickness":1.5},"encoding":{"yError":{"field":"e"}}},
  {"data":{"name":"pts"},"transform":[{"filter":"datum.p=='F'"}],"mark":{"type":"point","size":45,"strokeWidth":1.5,"opacity":1},"encoding":{"shape":{"field":"d","type":"nominal","scale":{"domain":["5-HT","WAY-161503","SR-57227A"],"range":["square","square","circle"]}},"fill":{"field":"d","type":"nominal","scale":{"domain":["5-HT","WAY-161503","SR-57227A"],"range":["black","white","white"]}},"stroke":{"field":"d","type":"nominal","scale":{"domain":["5-HT","WAY-161503","SR-57227A"],"range":["black","black","black"]}}}}
 ]},
 {"data":{"name":"lbl"},"transform":[{"filter":"datum.p=='F'"}],"mark":{"type":"text","fontWeight":"bold","fontSize":21,"align":"left","baseline":"alphabetic","color":"black"},"encoding":{"text":{"field":"t"},"x":{"datum":-10.63,"type":"quantitative","scale":{"domain":[-11,-4],"nice":false,"zero":false},"axis":{"values":[-11,-10,-9,-8,-7,-6,-5,-4],"title":"log [drug]"}},"y":{"datum":-12.5,"type":"quantitative","scale":{"domain":[-20,120],"nice":false},"axis":{"values":[-20,0,20,40,60,80,100,120],"title":["InsP accumulation","(% 5-HT max)"]}}}}
]}
]
}
